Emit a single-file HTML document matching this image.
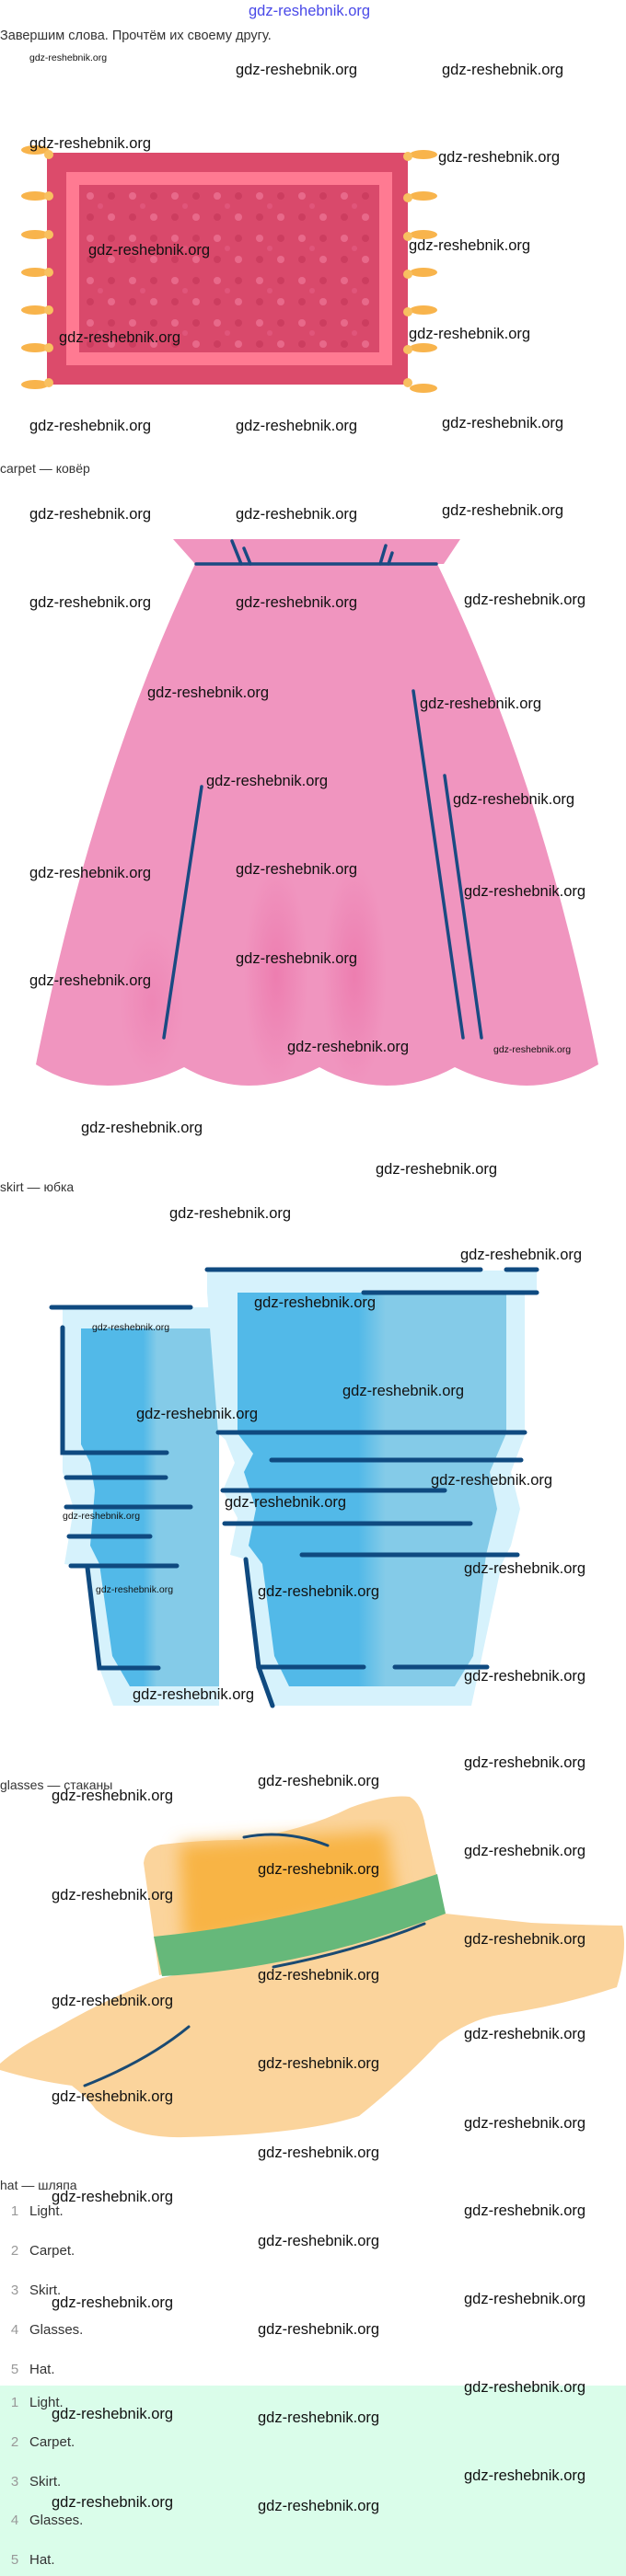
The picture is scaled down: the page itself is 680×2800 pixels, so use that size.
<!DOCTYPE html>
<html><head><meta charset="utf-8">
<style>
body{margin:0;padding:0;background:#fff;}
#p{position:relative;width:680px;height:2800px;overflow:hidden;background:#fff;font-family:"Liberation Sans","Noto Sans CJK SC",sans-serif;}
.w{position:absolute;font-size:16.5px;line-height:19px;color:#111;white-space:nowrap;z-index:5;}
.s{font-size:10.5px;line-height:12px;}
.t{position:absolute;font-size:14px;line-height:16px;color:#333;white-space:nowrap;}
.li{position:absolute;left:0;font-size:15px;line-height:18px;color:#333;white-space:nowrap;}
.li b{display:inline-block;width:32px;text-align:center;font-weight:normal;color:#999;}
svg{position:absolute;left:0;}
</style></head><body><div id="p">

<div style="position:absolute;left:270px;top:3px;font-size:16.5px;color:#4a4ae8;">gdz-reshebnik.org</div>
<div class="t" style="left:0;top:31px;font-size:14.5px;">Завершим слова. Прочтём их своему другу.</div>

<!-- carpet -->
<svg width="680" height="440" style="top:0" viewBox="0 0 680 440">
<defs>
<pattern id="dots" width="46" height="46" patternUnits="userSpaceOnUse" x="86" y="201">
<circle cx="12" cy="12" r="4" fill="#e8698a"/><circle cx="35" cy="35" r="4" fill="#e8698a"/>
<circle cx="35" cy="12" r="4" fill="#cc3d5f"/><circle cx="12" cy="35" r="4" fill="#cc3d5f"/>
<circle cx="23" cy="23" r="3" fill="#e0557a"/>
</pattern>
</defs>
<g fill="#f8b44c">
<ellipse cx="38" cy="163" rx="15" ry="5"/><ellipse cx="38" cy="213" rx="15" ry="5"/><ellipse cx="38" cy="255" rx="15" ry="5"/><ellipse cx="38" cy="296" rx="15" ry="5"/><ellipse cx="38" cy="337" rx="15" ry="5"/><ellipse cx="38" cy="378" rx="15" ry="5"/><ellipse cx="38" cy="418" rx="15" ry="5"/>
<ellipse cx="460" cy="168" rx="15" ry="5"/><ellipse cx="460" cy="213" rx="15" ry="5"/><ellipse cx="460" cy="255" rx="15" ry="5"/><ellipse cx="460" cy="296" rx="15" ry="5"/><ellipse cx="460" cy="337" rx="15" ry="5"/><ellipse cx="460" cy="378" rx="15" ry="5"/><ellipse cx="460" cy="422" rx="15" ry="5"/>
</g>
<rect x="51" y="166" width="392" height="252" fill="#dc4b6b"/>
<rect x="72" y="187" width="354" height="210" fill="#ff7a92"/>
<rect x="86" y="201" width="326" height="182" fill="#d9496b"/>
<rect x="86" y="201" width="326" height="182" fill="url(#dots)"/>
<g fill="#f8c060">
<circle cx="53" cy="168" r="5"/><circle cx="53" cy="213" r="5"/><circle cx="53" cy="255" r="5"/><circle cx="53" cy="296" r="5"/><circle cx="53" cy="337" r="5"/><circle cx="53" cy="378" r="5"/><circle cx="53" cy="416" r="5"/>
<circle cx="443" cy="170" r="5"/><circle cx="443" cy="215" r="5"/><circle cx="443" cy="257" r="5"/><circle cx="443" cy="298" r="5"/><circle cx="443" cy="339" r="5"/><circle cx="443" cy="380" r="5"/><circle cx="443" cy="416" r="5"/>
</g>
</svg>

<div class="w s" style="left:32px;top:57px;">gdz-reshebnik.org</div>
<div class="w" style="left:256px;top:67px;">gdz-reshebnik.org</div>
<div class="w" style="left:480px;top:67px;">gdz-reshebnik.org</div>
<div class="w" style="left:32px;top:147px;">gdz-reshebnik.org</div>
<div class="w" style="left:476px;top:162px;">gdz-reshebnik.org</div>
<div class="w" style="left:96px;top:263px;">gdz-reshebnik.org</div>
<div class="w" style="left:444px;top:258px;">gdz-reshebnik.org</div>
<div class="w" style="left:64px;top:358px;">gdz-reshebnik.org</div>
<div class="w" style="left:444px;top:354px;">gdz-reshebnik.org</div>
<div class="w" style="left:32px;top:454px;">gdz-reshebnik.org</div>
<div class="w" style="left:256px;top:454px;">gdz-reshebnik.org</div>
<div class="w" style="left:480px;top:451px;">gdz-reshebnik.org</div>

<div class="t" style="left:0;top:501px;">carpet — ковёр</div>

<!-- skirt -->
<svg width="680" height="640" style="top:560px" viewBox="0 560 680 640">
<defs>
<radialGradient id="sh1" cx="0.5" cy="0.5" r="0.5"><stop offset="0" stop-color="#ea6aa3" stop-opacity="0.55"/><stop offset="1" stop-color="#ea6aa3" stop-opacity="0"/></radialGradient>
</defs>
<path d="M188,586 L500,586 L482,613 L212,613 Z" fill="#f095bf"/>
<path d="M212,613 L475,613 Q590,850 650,1157 Q610,1180 572,1180 Q535,1180 494,1160 Q458,1180 420,1180 Q383,1180 347,1160 Q308,1180 270,1180 Q235,1180 200,1160 Q160,1180 117,1180 Q75,1180 39,1157 Q100,850 212,613 Z" fill="#f095bf"/>
<ellipse cx="300" cy="1060" rx="35" ry="120" fill="url(#sh1)"/>
<ellipse cx="385" cy="1060" rx="35" ry="120" fill="url(#sh1)"/>
<ellipse cx="165" cy="1090" rx="35" ry="80" fill="url(#sh1)" opacity="0.6"/>
<g stroke="#1a4a82" stroke-width="3.5" stroke-linecap="round" fill="none">
<line x1="213" y1="613" x2="474" y2="613"/>
<line x1="252" y1="588" x2="262" y2="613"/><line x1="265" y1="596" x2="272" y2="613"/>
<line x1="419" y1="593" x2="413" y2="613"/><line x1="426" y1="601" x2="422" y2="613"/>
<line x1="219" y1="855" x2="178" y2="1128"/>
<line x1="449" y1="751" x2="503" y2="1128"/>
<line x1="483" y1="843" x2="523" y2="1128"/>
</g>
</svg>

<div class="w" style="left:32px;top:550px;">gdz-reshebnik.org</div>
<div class="w" style="left:256px;top:550px;">gdz-reshebnik.org</div>
<div class="w" style="left:480px;top:546px;">gdz-reshebnik.org</div>
<div class="w" style="left:32px;top:646px;">gdz-reshebnik.org</div>
<div class="w" style="left:256px;top:646px;">gdz-reshebnik.org</div>
<div class="w" style="left:504px;top:643px;">gdz-reshebnik.org</div>
<div class="w" style="left:160px;top:744px;">gdz-reshebnik.org</div>
<div class="w" style="left:456px;top:756px;">gdz-reshebnik.org</div>
<div class="w" style="left:224px;top:840px;">gdz-reshebnik.org</div>
<div class="w" style="left:492px;top:860px;">gdz-reshebnik.org</div>
<div class="w" style="left:32px;top:940px;">gdz-reshebnik.org</div>
<div class="w" style="left:256px;top:936px;">gdz-reshebnik.org</div>
<div class="w" style="left:504px;top:960px;">gdz-reshebnik.org</div>
<div class="w" style="left:32px;top:1057px;">gdz-reshebnik.org</div>
<div class="w" style="left:256px;top:1033px;">gdz-reshebnik.org</div>
<div class="w" style="left:312px;top:1129px;">gdz-reshebnik.org</div>
<div class="w s" style="left:536px;top:1135px;">gdz-reshebnik.org</div>
<div class="w" style="left:88px;top:1217px;">gdz-reshebnik.org</div>
<div class="w" style="left:408px;top:1262px;">gdz-reshebnik.org</div>

<div class="t" style="left:0;top:1282px;">skirt — юбка</div>
<div class="w" style="left:184px;top:1310px;">gdz-reshebnik.org</div>

<!-- glasses -->
<svg width="680" height="500" style="top:1370px" viewBox="0 1370 680 500">
<defs>
<linearGradient id="gb" x1="0" x2="1" y1="0" y2="0"><stop offset="0" stop-color="#52b9e8"/><stop offset="0.45" stop-color="#52b9e8"/><stop offset="0.55" stop-color="#84cbe8"/><stop offset="1" stop-color="#84cbe8"/></linearGradient>
</defs>
<path d="M56,1421 L238,1421 L238,1854 L123,1854 L108,1813 L95,1704 L70,1700 L80,1640 L68,1600 L68,1421 Z" fill="#d6f2fc"/>
<path d="M88,1444 L238,1444 L238,1833 L141,1833 L122,1800 L108,1700 L98,1680 L103,1620 L98,1590 L88,1570 Z" fill="url(#gb)"/>
<path d="M225,1381 L583,1381 L583,1405 L570,1405 L570,1560 L555,1600 L565,1640 L555,1680 L545,1700 L512,1854 L295,1854 L281,1812 L267,1695 L250,1690 L258,1650 L242,1620 L255,1590 L245,1565 L237,1558 L225,1405 Z" fill="#d6f2fc"/>
<path d="M258,1405 L550,1405 L550,1558 L532,1600 L540,1640 L528,1690 L514,1800 L494,1833 L314,1833 L298,1800 L285,1700 L270,1680 L278,1640 L265,1600 L275,1580 L258,1558 Z" fill="url(#gb)"/>
<g stroke="#0f4a80" stroke-width="5" stroke-linecap="round" fill="none">
<line x1="225" y1="1380" x2="522" y2="1380"/><line x1="550" y1="1380" x2="583" y2="1380"/>
<line x1="395" y1="1405" x2="583" y2="1405"/>
<line x1="56" y1="1421" x2="207" y2="1421"/>
<polyline points="68,1443 68,1579 181,1579"/>
<line x1="72" y1="1606" x2="180" y2="1606"/>
<line x1="72" y1="1638" x2="207" y2="1638"/>
<line x1="75" y1="1670" x2="163" y2="1670"/>
<line x1="77" y1="1702" x2="192" y2="1702"/>
<polyline points="95,1704 108,1813 172,1813"/>
<line x1="237" y1="1557" x2="570" y2="1557"/>
<line x1="295" y1="1587" x2="566" y2="1587"/>
<line x1="242" y1="1620" x2="483" y2="1620"/>
<line x1="244" y1="1656" x2="511" y2="1656"/>
<line x1="328" y1="1690" x2="562" y2="1690"/>
<polyline points="267,1695 281,1812 296,1854"/>
<line x1="281" y1="1812" x2="395" y2="1812"/>
<line x1="429" y1="1812" x2="529" y2="1812"/>
</g>
</svg>

<div class="w" style="left:500px;top:1355px;">gdz-reshebnik.org</div>
<div class="w" style="left:276px;top:1407px;">gdz-reshebnik.org</div>
<div class="w s" style="left:100px;top:1437px;">gdz-reshebnik.org</div>
<div class="w" style="left:372px;top:1503px;">gdz-reshebnik.org</div>
<div class="w" style="left:148px;top:1528px;">gdz-reshebnik.org</div>
<div class="w" style="left:468px;top:1600px;">gdz-reshebnik.org</div>
<div class="w" style="left:244px;top:1624px;">gdz-reshebnik.org</div>
<div class="w s" style="left:68px;top:1642px;">gdz-reshebnik.org</div>
<div class="w" style="left:504px;top:1696px;">gdz-reshebnik.org</div>
<div class="w s" style="left:104px;top:1722px;">gdz-reshebnik.org</div>
<div class="w" style="left:280px;top:1721px;">gdz-reshebnik.org</div>
<div class="w" style="left:504px;top:1813px;">gdz-reshebnik.org</div>
<div class="w" style="left:144px;top:1833px;">gdz-reshebnik.org</div>

<div class="t" style="left:0;top:1932px;">glasses — стаканы</div>

<!-- hat -->
<svg width="680" height="420" style="top:1940px" viewBox="0 1940 680 420">
<defs>
<filter id="bl"><feGaussianBlur stdDeviation="9"/></filter>
</defs>
<path d="M176,2150 Q120,2170 60,2205 Q20,2225 0,2243 L0,2250 Q40,2262 78,2267 Q95,2280 104,2293 Q140,2325 200,2323 Q330,2320 390,2300 Q440,2260 477,2220 Q510,2195 542,2190 Q610,2180 670,2160 Q682,2120 676,2093 Q620,2092 577,2090 Q530,2085 484,2080 Z" fill="#fbd49c"/>
<path d="M173,2147 L156,2025 Q158,2008 175,2005 Q220,2000 260,2000 Q330,1990 380,1965 Q420,1950 445,1953 Q458,1960 462,1985 L484,2080 Z" fill="#fbd49c"/>
<path d="M195,2005 Q300,1998 420,1990 L432,2070 L200,2115 Z" fill="#f8b444" filter="url(#bl)"/>
<path d="M167,2105 Q320,2090 475,2037 L484,2080 Q330,2140 176,2148 Z" fill="#66b87a"/>
<g stroke="#1a4a72" stroke-width="3" stroke-linecap="round" fill="none">
<path d="M265,1997 Q310,1988 356,2006"/>
<path d="M297,2138 Q390,2120 461,2091"/>
<path d="M92,2267 Q160,2240 205,2203"/>
</g>
</svg>

<div class="w" style="left:504px;top:1907px;">gdz-reshebnik.org</div>
<div class="w" style="left:280px;top:1927px;">gdz-reshebnik.org</div>
<div class="w" style="left:56px;top:1943px;">gdz-reshebnik.org</div>
<div class="w" style="left:504px;top:2003px;">gdz-reshebnik.org</div>
<div class="w" style="left:280px;top:2023px;">gdz-reshebnik.org</div>
<div class="w" style="left:56px;top:2051px;">gdz-reshebnik.org</div>
<div class="w" style="left:504px;top:2099px;">gdz-reshebnik.org</div>
<div class="w" style="left:280px;top:2138px;">gdz-reshebnik.org</div>
<div class="w" style="left:56px;top:2166px;">gdz-reshebnik.org</div>
<div class="w" style="left:504px;top:2202px;">gdz-reshebnik.org</div>
<div class="w" style="left:280px;top:2234px;">gdz-reshebnik.org</div>
<div class="w" style="left:56px;top:2270px;">gdz-reshebnik.org</div>
<div class="w" style="left:504px;top:2299px;">gdz-reshebnik.org</div>
<div class="w" style="left:280px;top:2331px;">gdz-reshebnik.org</div>

<div class="t" style="left:0;top:2367px;">hat — шляпа</div>

<div style="position:absolute;left:0;top:2593px;width:680px;height:207px;background:#dafdea;"></div>

<div class="li" style="top:2395px;"><b>1</b>Light.</div>
<div class="li" style="top:2438px;"><b>2</b>Carpet.</div>
<div class="li" style="top:2481px;"><b>3</b>Skirt.</div>
<div class="li" style="top:2524px;"><b>4</b>Glasses.</div>
<div class="li" style="top:2567px;"><b>5</b>Hat.</div>
<div class="li" style="top:2603px;"><b>1</b>Light.</div>
<div class="li" style="top:2646px;"><b>2</b>Carpet.</div>
<div class="li" style="top:2689px;"><b>3</b>Skirt.</div>
<div class="li" style="top:2731px;"><b>4</b>Glasses.</div>
<div class="li" style="top:2774px;"><b>5</b>Hat.</div>

<div class="w" style="left:56px;top:2379px;">gdz-reshebnik.org</div>
<div class="w" style="left:504px;top:2394px;">gdz-reshebnik.org</div>
<div class="w" style="left:280px;top:2427px;">gdz-reshebnik.org</div>
<div class="w" style="left:56px;top:2494px;">gdz-reshebnik.org</div>
<div class="w" style="left:504px;top:2490px;">gdz-reshebnik.org</div>
<div class="w" style="left:280px;top:2523px;">gdz-reshebnik.org</div>
<div class="w" style="left:504px;top:2586px;">gdz-reshebnik.org</div>
<div class="w" style="left:56px;top:2615px;">gdz-reshebnik.org</div>
<div class="w" style="left:280px;top:2619px;">gdz-reshebnik.org</div>
<div class="w" style="left:504px;top:2682px;">gdz-reshebnik.org</div>
<div class="w" style="left:56px;top:2711px;">gdz-reshebnik.org</div>
<div class="w" style="left:280px;top:2715px;">gdz-reshebnik.org</div>

</div></body></html>
